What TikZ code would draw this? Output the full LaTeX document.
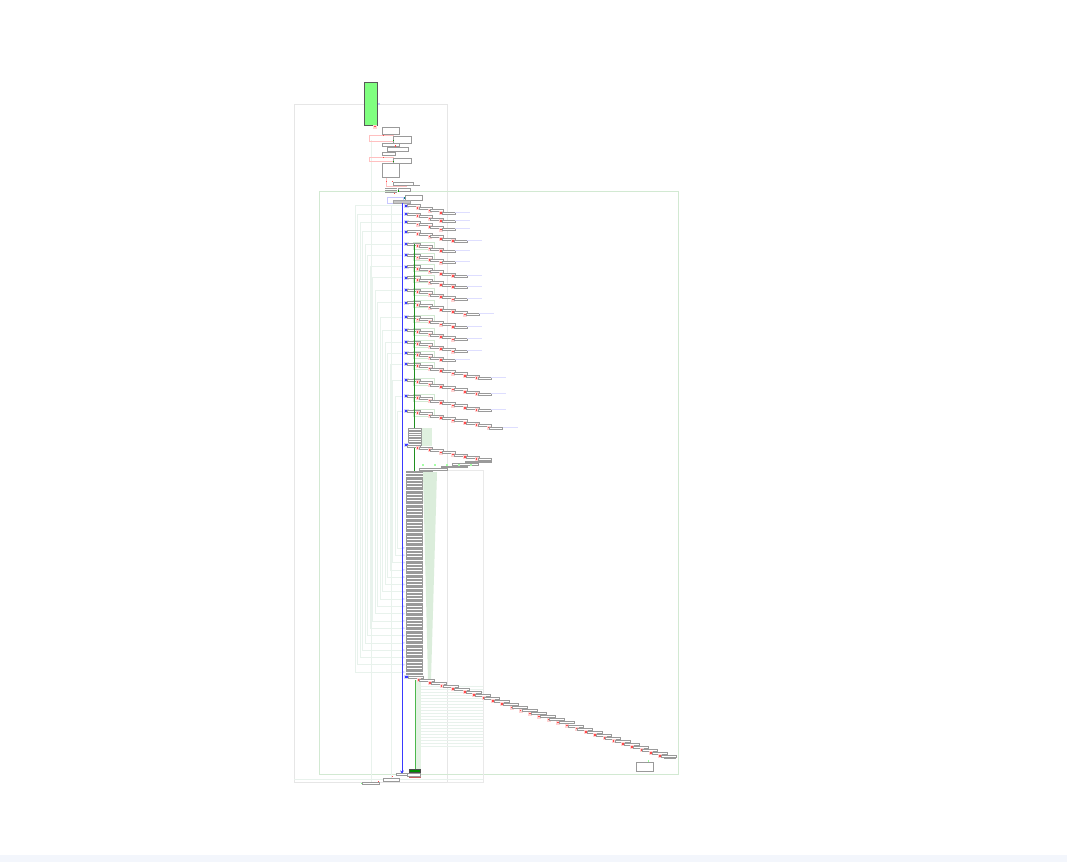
\documentclass[tikz,border=0pt]{standalone}
\usetikzlibrary{arrows.meta}
\definecolor{bxg}{HTML}{9A9A9A}
\definecolor{fgreen}{HTML}{D2E9D2}
\definecolor{fline}{HTML}{E8F2EC}
\definecolor{lav}{HTML}{C8C8FF}
\definecolor{pinkl}{HTML}{FFC0C0}
\definecolor{mred}{HTML}{FF4A4A}
\definecolor{bblue}{HTML}{3A3AFF}
\definecolor{lgreen}{HTML}{80FF80}
\definecolor{dgreen}{HTML}{1F8F1F}
\definecolor{band}{HTML}{F3F6FC}
\definecolor{frameg}{HTML}{E0E0E0}
\definecolor{brownred}{HTML}{C86464}
\tikzset{
  boxst/.style={draw=bxg, fill=white, line width=0.6pt},
  faintl/.style={draw=fline, line width=0.5pt},
  lavl/.style={draw=lav!60, line width=0.5pt},
  redmark/.style={fill=mred},
  halo/.style={fill=pinkl!70},
}
\begin{document}
\begin{tikzpicture}[x=1pt,y=-1pt]
\useasboundingbox (0,0) rectangle (1067,862);
\fill[white] (0,0) rectangle (1067,862);
\fill[band] (0,855) rectangle (1067,862);

% frames
\draw[frameg!80, line width=0.5pt] (294,104) rectangle (447,782);
\draw[fgreen, line width=0.6pt] (319,191) rectangle (678,774);
\draw[frameg!70, line width=0.5pt] (447,470) -- (483,470) -- (483,782) -- (447,782);
\draw[faintl] (371,140) -- (371,782);
\draw[faintl] (391,205) -- (391,778);
\draw[faintl] (294,779) -- (483,779);

% top green box
\draw[gray!70!black, fill=lgreen, line width=0.6pt] (364.5,82.5) rectangle (377,125.5);
\fill[lav] (377.5,103) rectangle ++(2,2);

% top chain
\fill[halo] (372.5,124.5) rectangle ++(4,4);
\fill[redmark] (374,125.5) rectangle ++(1.6,1.6);
\draw[boxst] (382,127) rectangle (399,134);
\draw[pinkl, line width=0.5pt] (369,135) rectangle (393,141);
\fill[redmark] (382.5,134.5) rectangle ++(1.6,1.6);
\draw[boxst] (393,136) rectangle (411,143);
\fill[green!60!black] (392.5,139.5) rectangle ++(1.8,1.8);
\draw[boxst] (382,143) rectangle (399,146);
\fill[redmark] (394.5,145.2) rectangle ++(1.6,1.6);
\fill[green!60!black] (394.5,147.4) rectangle ++(1.6,1.6);
\draw[boxst] (387,147) rectangle (408,151);
\draw[boxst] (382,152) rectangle (395,155);
\draw[pinkl, line width=0.5pt] (369,157) rectangle (393,161);
\fill[redmark] (382.5,156.5) rectangle ++(1.6,1.6);
\draw[boxst] (393,158) rectangle (411,163);
\fill[green!60!black] (392.5,160.5) rectangle ++(1.8,1.8);
\draw[boxst] (382,163) rectangle (399,177);
\draw[pinkl, line width=0.5pt] (386,178) -- (386,186) -- (407,186);
\fill[redmark] (385.5,180.5) rectangle ++(1.6,1.6);
\fill[redmark] (391.5,180.5) rectangle ++(1.6,1.6);
\draw[boxst] (393,182) rectangle (413,185);
\draw[gray!80, line width=1pt] (400,185) -- (420,185);
\draw[bxg, line width=0.6pt] (385,188) -- (397,188) (385,190) -- (397,190) (385,192) -- (397,192);
\draw[boxst] (398,188) rectangle (410,191);
\fill[green!60!black] (397.5,190) rectangle ++(1.6,1.6);
\fill[redmark] (393.5,192.5) rectangle ++(1.6,1.6);
\draw[lav, line width=0.6pt] (387,197) rectangle (403,203);
\fill[teal] (403.5,196.5) rectangle ++(2,2);
\draw[boxst] (405,195) rectangle (422,200);
\draw[gray!70, fill=gray!45, line width=0.5pt] (393,200) rectangle (410,203);

% left nested L lines and groups
\foreach \gy/\n/\g [count=\k from 0] in {205.7/4/0, 214/4/0, 222.3/4/0, 231.7/5/0, 244/4/1, 255.3/4/1, 266.7/5/1, 277.7/5/1, 290/5/1, 302.7/6/1, 317.3/5/1, 330/5/1, 342/5/1, 353/4/1, 364/7/1, 380/7/1, 396/7/1, 411/8/1} {
  \pgfmathsetmacro\lx{355+2.5*\k}
  \pgfmathsetmacro\ye{672-7.3*\k}
  \draw[faintl] (402,\gy) -| (\lx,\ye) -- (402,\ye);
  \fill[lav!70] (402.5,\ye-1.2) -- (405.5,\ye) -- (402.5,\ye+1.2) -- cycle;
  \ifnum\g=1
    \draw[fgreen, line width=0.6pt] (413,\gy-2) rectangle (434,\gy+5);
  \fi
  \fill[lav!70] (404,\gy-2) rectangle ++(5,4);
  \fill[bblue] (405,\gy-1) rectangle ++(2.5,2);
  \pgfmathtruncatemacro\last{\n-1}
  \foreach \i in {0,...,\last} {
    \pgfmathsetmacro\bx{407+11.8*\i}
    \pgfmathsetmacro\by{\gy+2.4*\i}
    \ifnum\i>0
      \fill[halo] (\bx-3,\by-2) rectangle ++(4,4);
      \fill[redmark] (\bx-2,\by-1) rectangle ++(1.6,1.6);
    \fi
    \draw[boxst] (\bx,\by-1) rectangle (\bx+13,\by+1);
  }
  \pgfmathsetmacro\ex{407+11.8*\last+13}
  \pgfmathsetmacro\ey{\gy+2.4*\last}
  \draw[lavl] (\ex,\ey-1) -- (\ex+15,\ey-1);
}

% green vertical
\draw[dgreen, line width=1pt] (414,244) -- (414,471) -- (420,471);
\draw[dgreen, line width=1pt] (414,428) -- (432,428);

% stack at 428
\fill[fgreen!70] (422,428) rectangle (432,446);
\foreach \j in {0,...,6} {
  \draw[boxst] (408,428.5+2.4*\j) rectangle (421,430.5+2.4*\j);
}
% group at 444
\fill[lav!70] (404,443) rectangle ++(5,4);
\fill[bblue] (405,444) rectangle ++(2.5,2);
\foreach \i in {0,...,6} {
  \pgfmathsetmacro\bx{407+11.8*\i}
  \pgfmathsetmacro\by{446+2.2*\i}
  \ifnum\i>0
    \fill[halo] (\bx-3,\by-2) rectangle ++(4,4);
    \fill[redmark] (\bx-2,\by-1) rectangle ++(1.6,1.6);
  \fi
  \draw[boxst] (\bx,\by-1) rectangle (\bx+13,\by+1);
}
\draw[boxst] (465,461) rectangle (491,462.5);
\draw[boxst] (452,463.5) rectangle (478,465);
\draw[boxst] (441,466) rectangle (467,467.5);
\draw[boxst] (419,468.5) rectangle (447,470);
\draw[boxst] (406,471) rectangle (432,472.5);
\foreach \q in {422,434,446,458,470} {
  \fill[green!35] (\q,464) rectangle ++(1.6,1.6);
}

% green wedge
\fill[fgreen!80] (423,472) -- (437,472) -- (431,680) -- (428,680) -- cycle;
% big stack
\foreach \j in {0,...,71} {
  \draw[boxst] (406,474+2.8*\j) rectangle (422,475.6+2.8*\j);
}

% blue main line
\coordinate (bstart) at (402,203);
\coordinate (bend) at (402,774);
\draw[bblue, line width=1pt, -{Stealth[length=3.5pt,width=3.5pt]}] (bstart) -- (bend);

% long staircase
\fill[lav!70] (404,675) rectangle ++(5,4);
\fill[bblue] (405,676) rectangle ++(2.5,2);
\foreach \i in {0,...,20} {
  \draw[faintl] (416,686+3*\i) -- (483,686+3*\i);
}
\fill[fgreen!60] (415,680) rectangle (421,770);
\draw[green!60!black!70, line width=0.8pt] (415,680) -- (415,770);
\foreach \i in {0,...,26} {
  \pgfmathsetmacro\bx{\i<6 ? 408+11.6*\i : 466+9.3*(\i-5)}
  \pgfmathsetmacro\by{677+3.05*\i}
  \ifnum\i>0
    \fill[halo] (\bx-3,\by-2) rectangle ++(4,4);
    \fill[redmark] (\bx-2,\by-1) rectangle ++(1.6,1.6);
  \fi
  \draw[boxst] (\bx,\by-1) rectangle (\bx+15,\by+1);
}
\draw[bxg, line width=0.5pt] (664,758.3) -- (676,758.3);
\draw[green!40, line width=0.5pt] (648,760) -- (648,762);
\draw[boxst] (636,762) rectangle (653,771);

% bottom
\draw[gray!60!black, fill=green!55!black, line width=0.4pt] (409,769) rectangle (420,772);
\draw[boxst] (396,773) rectangle (408,775);
\draw[boxst] (407,773) rectangle (420,776);
\fill[brownred] (409,776.5) rectangle (421,777.8);
\fill[redmark] (391.5,775.5) rectangle ++(1.6,1.6);
\draw[boxst] (383,778) rectangle (399,781);
\fill[redmark] (377.5,780.5) rectangle ++(1.6,1.6);
\draw[boxst] (362,782) rectangle (379,784);
\fill[green!50] (360.5,782.5) rectangle ++(1.6,1.6);
\end{tikzpicture}
\end{document}
